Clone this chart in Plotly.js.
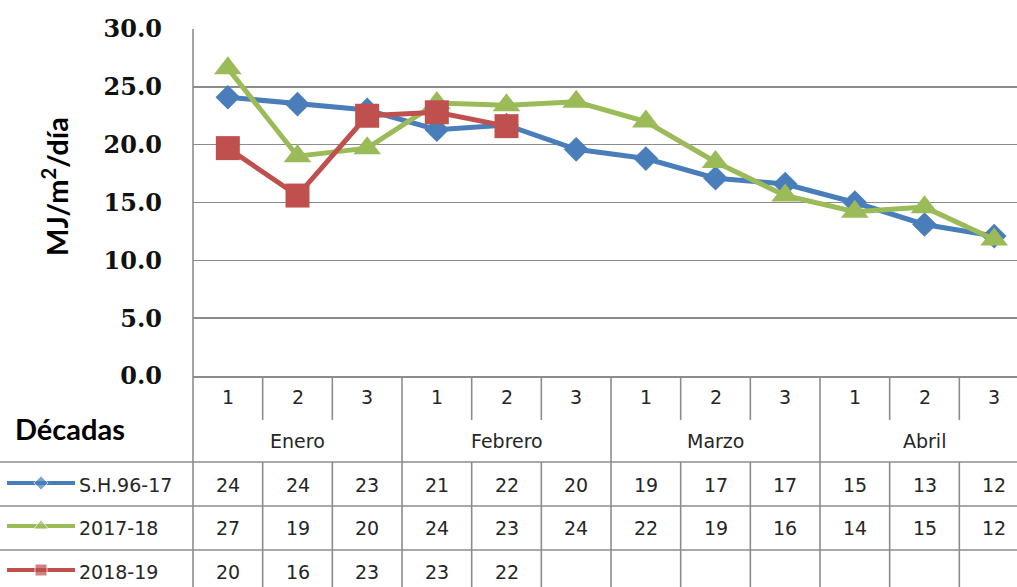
<!DOCTYPE html>
<html>
<head>
<meta charset="utf-8">
<script src="https://cdn.plot.ly/plotly-3.0.1.min.js"></script>
<style>
  html, body { margin: 0; padding: 0; overflow: hidden; background: #ffffff; }
  #chart { width: 1030px; height: 587px; }
</style>
</head>
<body>
<div id="chart"></div>
<script>
// ---- data ----
const decades = ['1', '2', '3', '1', '2', '3', '1', '2', '3', '1', '2', '3'];
const months = ['Enero', 'Febrero', 'Marzo', 'Abril'];
const seriesNames = ['S.H.96-17', '2017-18', '2018-19'];
const sh9617 = [24.1, 23.5, 23.0, 21.3, 21.7, 19.6, 18.8, 17.1, 16.6, 15.0, 13.1, 12.1];
const s201718 = [26.6, 19.0, 19.7, 23.6, 23.4, 23.7, 22.0, 18.5, 15.6, 14.2, 14.6, 11.8];
const s201819 = [19.7, 15.6, 22.5, 22.8, 21.6];
const yTicks = [0, 5, 10, 15, 20, 25, 30];
const yTitle = 'MJ/m<sup>2</sup>/día';
const tableHeader = 'Décadas';

// ---- geometry (pixels) ----
const W = 1030, H = 587;
const L = 193, R = 1029, T = 29, B = 376;
const px = x => x / W;
const py = y => 1 - y / H;

const colors = ['#4A7EBB', '#9BBB59', '#C0504D'];
const symbols = ['diamond', 'triangle-up', 'square'];
const msize = [19, 24, 24];
const legSize = [11, 13, 12];
const allSeries = [sh9617, s201718, s201819];
const rowY = [485, 528, 572];
const gridCol = '#8c8c8c';
const textCol = '#262626';

const traces = [];
allSeries.forEach((vals, s) => {
  traces.push({
    type: 'scatter', mode: 'lines+markers',
    x: vals.map((v, i) => i), y: vals,
    name: seriesNames[s],
    line: { color: colors[s], width: 5 },
    marker: { symbol: symbols[s], size: msize[s], color: colors[s] },
    xaxis: 'x', yaxis: 'y', showlegend: false, hoverinfo: 'skip'
  });
});
// legend samples inside the table
allSeries.forEach((vals, s) => {
  traces.push({
    type: 'scatter', mode: 'lines+markers',
    x: [7, 41, 75], y: [rowY[s] - 2, rowY[s] - 2, rowY[s] - 2],
    line: { color: colors[s], width: 4 },
    marker: { symbol: symbols[s], size: [0, legSize[s], 0], color: colors[s] },
    xaxis: 'x2', yaxis: 'y2', showlegend: false, hoverinfo: 'skip'
  });
});

const shapes = [];
const lineStyle = { color: gridCol, width: 1.6 };
// horizontal table lines
[462, 506, 550].forEach(y => {
  shapes.push({ type: 'line', xref: 'paper', yref: 'paper', x0: 0, x1: 1, y0: py(y), y1: py(y), line: lineStyle });
});
// left border extended down
shapes.push({ type: 'line', xref: 'paper', yref: 'paper', x0: px(L), x1: px(L), y0: py(T), y1: py(H), line: lineStyle });
// vertical separators
for (let k = 0; k < decades.length - 1; k++) {
  const b = k + 0.5;
  if ((k + 1) % 3 === 0) {
    shapes.push({ type: 'line', xref: 'x', yref: 'paper', x0: b, x1: b, y0: py(B), y1: py(H), line: lineStyle });
  } else {
    shapes.push({ type: 'line', xref: 'x', yref: 'paper', x0: b, x1: b, y0: py(B), y1: py(420), line: lineStyle });
    shapes.push({ type: 'line', xref: 'x', yref: 'paper', x0: b, x1: b, y0: py(462), y1: py(H), line: lineStyle });
  }
}

const annotations = [];
const tFont = { family: 'DejaVu Sans', size: 19, color: textCol };
const ann = (o) => annotations.push(Object.assign({ showarrow: false, yanchor: 'middle', xanchor: 'center', yref: 'paper' }, o));
decades.forEach((d, i) => {
  ann({ text: d, x: i, xref: 'x', y: py(397), font: tFont });
});
months.forEach((m, j) => {
  ann({ text: m, x: j * 3 + 1, xref: 'x', y: py(441), font: tFont });
});
allSeries.forEach((vals, s) => {
  vals.forEach((v, i) => {
    ann({ text: String(Math.round(v)), x: i, xref: 'x', y: py(rowY[s]), font: tFont });
  });
  ann({ text: seriesNames[s], x: px(77), xref: 'paper', xanchor: 'left', y: py(rowY[s]), font: tFont });
});
ann({ text: tableHeader, x: px(13), xref: 'paper', xanchor: 'left', y: py(428),
  font: { family: 'Lato', size: 29, color: '#000', weight: 'bold' } });
ann({ text: yTitle, x: px(55), xref: 'paper', y: py(187), textangle: -90,
  font: { family: 'Lato', size: 29, color: '#000', weight: 'bold' } });

const layout = {
  width: W, height: H,
  margin: { l: 0, r: 0, t: 0, b: 0 },
  paper_bgcolor: '#ffffff', plot_bgcolor: '#ffffff',
  font: { family: 'DejaVu Sans', color: textCol },
  showlegend: false,
  xaxis: {
    domain: [px(L), px(R)], range: [-0.5, 11.5],
    showgrid: false, zeroline: false, showticklabels: false, ticks: '',
    showline: true, linecolor: gridCol, linewidth: 1.6, anchor: 'y'
  },
  yaxis: {
    domain: [py(B), py(T)], range: [0, 30],
    tickvals: yTicks, tickformat: '.1f',
    showgrid: true, gridcolor: gridCol, gridwidth: 1.6,
    zeroline: false, showline: false, ticks: '', ticklabelstandoff: 30,
    tickfont: { family: 'DejaVu Serif', size: 24, color: '#111', weight: 'bold' },
    anchor: 'x'
  },
  xaxis2: { domain: [0, px(L)], range: [0, L], visible: false, anchor: 'y2' },
  yaxis2: { domain: [0, py(B)], range: [H, B], visible: false, anchor: 'x2' },
  shapes: shapes,
  annotations: annotations
};

Plotly.newPlot('chart', traces, layout, { displayModeBar: false, staticPlot: true });
</script>
</body>
</html>
